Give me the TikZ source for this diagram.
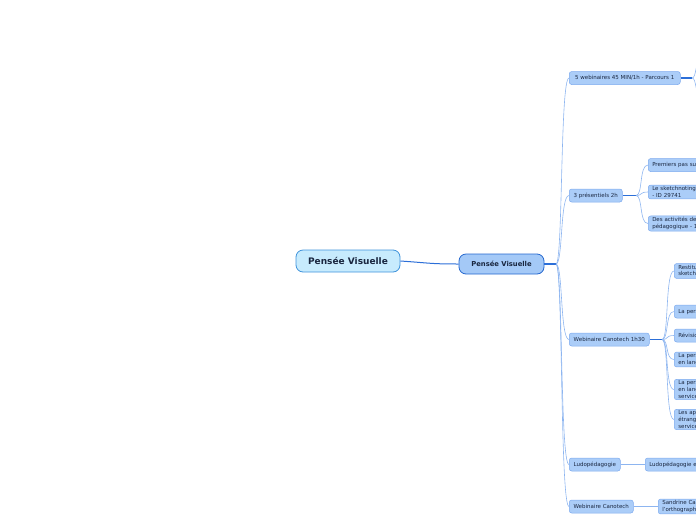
\documentclass[tikz,border=0pt]{standalone}
\usepackage{fontspec}
\setmainfont{DejaVu Sans}
\definecolor{rootfill}{HTML}{C7EBFD}
\definecolor{rootdraw}{HTML}{3F93DB}
\definecolor{mainfill}{HTML}{A4C9F7}
\definecolor{maindraw}{HTML}{2467CF}
\definecolor{subfill}{HTML}{ABCDF8}
\definecolor{subdraw}{HTML}{7DAAEE}
\definecolor{txt}{HTML}{1A2740}
\definecolor{thick}{HTML}{2C6FD8}
\definecolor{thin}{HTML}{8DB5F0}
\tikzset{
  rootbox/.style={draw=rootdraw, fill=rootfill, rounded corners=7pt, line width=0.8pt,
    font=\bfseries\fontsize{9}{10}\selectfont, text=txt, minimum height=22pt, minimum width=104pt, inner sep=0pt},
  mainbox/.style={draw=maindraw, fill=mainfill, rounded corners=7pt, line width=0.8pt,
    font=\bfseries\fontsize{6.8}{7.5}\selectfont, text=txt, minimum height=20pt, minimum width=85pt, inner sep=0pt},
  subbox/.style={draw=subdraw, fill=subfill, rounded corners=2.5pt, line width=0.5pt,
    font=\fontsize{5.5}{6.6}\selectfont, text=txt, minimum height=13pt, inner xsep=4pt, inner ysep=1.5pt, anchor=west},
  leafbox/.style={subbox, text width=130pt, align=left},
  thickline/.style={draw=thick, line width=1.3pt},
  rootline/.style={draw=thick, line width=1pt},
  thinline/.style={draw=thin, line width=0.6pt},
}
\newcommand{\branch}[2]{\draw[thinline] (#1) .. controls ($(#1)+(7,0)$) and ($(#2.west)+(-9,0)$) .. (#2.west);}
\usetikzlibrary{calc}
\begin{document}
\begin{tikzpicture}[x=1pt,y=-1pt]
\useasboundingbox (0,0) rectangle (696,520);
\clip (0,0) rectangle (696,520);
% root and main
\node[rootbox] (root) at (348,261) {Pensée Visuelle};
\node[mainbox] (main) at (501.5,264) {Pensée Visuelle};
\draw[rootline] (root.east) .. controls (430,263) and (430,264) .. (main.west);
\coordinate (j0) at (556,264);
\draw[thickline] (main.east) -- (j0);
% level 2
\node[subbox, minimum width=111pt] (w5) at (569,78) {5 webinaires 45 MIN/1h - Parcours 1};
\node[subbox, minimum width=53pt] (p3) at (569,195.5) {3 présentiels 2h};
\node[subbox, minimum width=80pt] (wc1) at (569,339.5) {Webinaire Canotech 1h30};
\node[subbox, minimum width=51pt] (ludo) at (569,464.5) {Ludopédagogie};
\node[subbox, minimum width=64pt] (wc) at (569,506.5) {Webinaire Canotech};
\foreach \n in {w5,p3,wc1,ludo,wc}{\branch{j0}{\n}}
% 5 webinaires children (outside the frame)
\coordinate (j1) at (692,78);
\draw[thickline] (w5.east) -- (j1);
\coordinate (o1) at (704,56);
\coordinate (o2) at (704,100);
\draw[thinline] (j1) .. controls (697,78) and (694,60) .. (o1);
\draw[thinline] (j1) .. controls (697,78) and (694,96) .. (o2);
% 3 présentiels children
\coordinate (j2) at (636,195.5);
\draw[thickline] (p3.east) -- (j2);
\node[leafbox] (a1) at (648,165) {Premiers pas sur le sketchnoting};
\node[leafbox] (a2) at (648,192) {Le sketchnoting en classe\\- ID 29741};
\node[leafbox] (a3) at (648,223.5) {Des activités de sketchnoting\\pédagogique - 1};
\foreach \n in {a1,a2,a3}{\branch{j2}{\n}}
% Webinaire Canotech 1h30 children
\coordinate (j3) at (662,339.5);
\draw[thickline] (wc1.east) -- (j3);
\node[leafbox] (b1) at (674,271) {Restitution en\\sketchnoting};
\node[leafbox] (b2) at (674,311.5) {La personnalisation};
\node[leafbox] (b3) at (674,335.5) {Révision};
\node[leafbox] (b4) at (674,359.5) {La personnalisation\\en langues};
\node[leafbox] (b5) at (674,389.5) {La personnalisation\\en langues au\\service};
\node[leafbox] (b6) at (674,419.5) {Les apprentissages\\étrangères au\\service};
\foreach \n in {b1,b2,b3,b4,b5,b6}{\branch{j3}{\n}}
% Ludopédagogie
\node[leafbox] (c1) at (645,464.5) {Ludopédagogie et jeux};
\draw[thinline] (ludo.east) -- (c1.west);
% Webinaire Canotech
\node[leafbox] (d1) at (658,506.5) {Sandrine Campese\\l'orthographe};
\draw[thinline] (wc.east) -- (d1.west);
\end{tikzpicture}
\end{document}
